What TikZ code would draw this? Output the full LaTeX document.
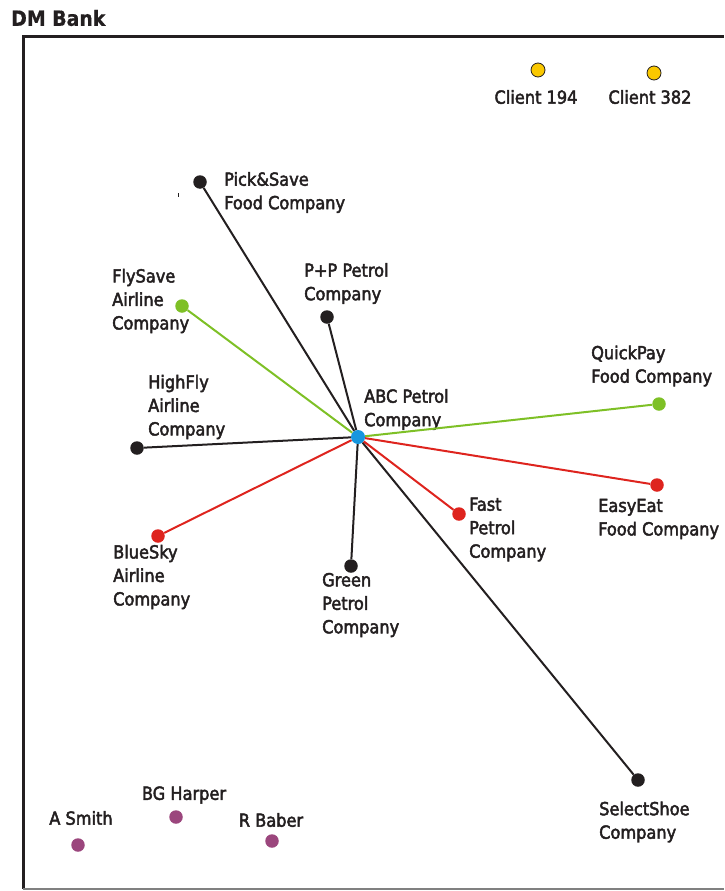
\documentclass[tikz,border=0pt]{standalone}
\usepackage{fontspec}
\setmainfont{DejaVu Sans Condensed}
% slightly heavier face for the labels
\font\lblfont="DejaVu Sans Condensed:embolden=2.5" at 18pt
\font\ttlfont="DejaVu Sans Condensed Bold:embolden=0.6" at 21pt
\newcommand\lblsetup{\lblfont\baselineskip=23.5pt\relax}
\definecolor{ink}{RGB}{35,31,32}
\definecolor{lgreen}{RGB}{126,192,38}
\definecolor{lred}{RGB}{222,36,30}
\definecolor{lblue}{RGB}{22,150,222}
\definecolor{lpurple}{RGB}{155,70,125}
\definecolor{lyellow}{RGB}{250,200,0}
\tikzset{
  dot/.style={circle, inner sep=0pt, minimum size=13.5pt, fill=ink},
  gdot/.style={dot, fill=lgreen},
  rdot/.style={dot, fill=lred},
  pdot/.style={dot, fill=lpurple},
  ydot/.style={circle, inner sep=0pt, minimum size=14pt, fill=lyellow, draw=ink, line width=0.8pt},
  lbl/.style={anchor=west, align=left, inner sep=0pt, text=ink,
    font=\lblsetup},
  clbl/.style={lbl, anchor=center, align=center},
  blk/.style={ink, line width=2pt},
  grn/.style={lgreen, line width=2pt},
  rd/.style={lred, line width=2pt},
}
\begin{document}
\begin{tikzpicture}[x=1pt, y=-1pt]
\useasboundingbox (0,0) rectangle (724,891);

% frame
\node[anchor=west, inner sep=0pt, text=ink, font=\ttlfont] (title) at (11,18) {DM Bank};
\draw[ink, line width=3pt] (23,889) -- (23,37) -- (724,37);
\draw[gray, line width=1.2pt] (23,889) -- (724,889);

% hub
\node[circle, inner sep=0pt, minimum size=14pt, fill=lblue] (abc) at (358,437) {};
\node[lbl] (abcl) at (364,409.5) {ABC Petrol\\Company};

% linked companies
\node[dot] (pick) at (200,182) {};
\node[lbl] (pickl) at (224,192.5) {Pick\&Save\\Food Company};
\draw[ink, line width=0.8pt] (178,193) -- (178,197);

\node[dot] (pp) at (327,317) {};
\node[lbl] (ppl) at (304,283.5) {P+P Petrol\\Company};

\node[gdot] (fly) at (182,306) {};
\node[lbl] (flyl) at (112,301) {FlySave\\Airline\\Company};

\node[dot] (high) at (137,448) {};
\node[lbl] (highl) at (148,407) {HighFly\\Airline\\Company};

\node[gdot] (quick) at (659,404) {};
\node[lbl] (quickl) at (591,366) {QuickPay\\Food Company};

\node[rdot] (easy) at (657,485) {};
\node[lbl] (easyl) at (598,519) {EasyEat\\Food Company};

\node[rdot] (fast) at (459,514) {};
\node[lbl] (fastl) at (469,529.5) {Fast\\Petrol\\Company};

\node[rdot] (blue) at (158,536) {};
\node[lbl] (bluel) at (113,577) {BlueSky\\Airline\\Company};

\node[dot] (green) at (351,566) {};
\node[lbl] (greenl) at (322,605) {Green\\Petrol\\Company};

\node[dot] (shoe) at (638,780) {};
\node[lbl] (shoel) at (599,822) {SelectShoe\\Company};

% connections from the hub
\draw[blk] (abc) -- (pick);
\draw[blk] (abc) -- (pp);
\draw[blk] (abc) -- (high);
\draw[blk] (abc) -- (green);
\draw[blk] (abc) -- (shoe);
\draw[grn] (abc) -- (fly);
\draw[grn] (abc) -- (quick);
\draw[rd] (abc) -- (blue);
\draw[rd] (abc) -- (fast);
\draw[rd] (abc) -- (easy);

% clients
\node[ydot] (c194) at (538,70) {};
\node[clbl] (c194l) at (536,97) {Client 194};
\node[ydot] (c382) at (654,73) {};
\node[clbl] (c382l) at (650,97) {Client 382};

% individuals
\node[pdot] (smith) at (78,845) {};
\node[clbl] (smithl) at (81,818) {A Smith};
\node[pdot] (harper) at (176,817) {};
\node[clbl] (harperl) at (184,795) {BG Harper};
\node[pdot] (baber) at (272,841) {};
\node[clbl] (baberl) at (271,820) {R Baber};
\end{tikzpicture}
\end{document}
